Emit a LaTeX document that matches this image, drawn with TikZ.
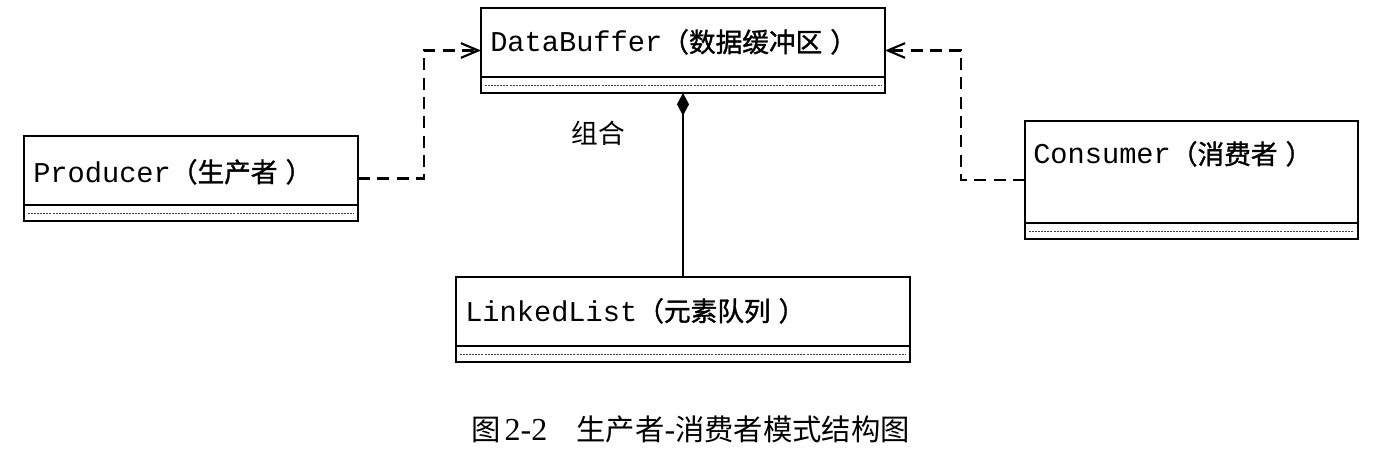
\documentclass[tikz,border=0pt]{standalone}
\usepackage{fontspec}
\setmainfont{Liberation Serif}
\setmonofont{Liberation Mono}
\newfontfamily\cjk{Noto Sans CJK SC}
\newfontfamily\cjkb[FakeBold=1.3]{Noto Sans CJK SC}
\usetikzlibrary{arrows.meta,calc}
\newlength\pxu \setlength\pxu{0.75pt}
\newcommand\zh[1]{{\cjkb\fontsize{20pt}{22pt}\selectfont #1}}
\newcommand\classbox[5]{%
  \node[umlbox, minimum width=#4\pxu, minimum height=#5\pxu] (#1) at (#2,#3) {};
  \draw[sepline] ($(#1.south west)+(0,-16)$) -- ($(#1.south east)+(0,-16)$);
  \draw[dotline] ($(#1.south west)+(4,-8)$) -- ($(#1.south east)+(-4,-8)$);
}
\tikzset{
  umlbox/.style={draw, rectangle, line width=2pt, inner sep=0pt, outer sep=0pt},
  sepline/.style={line width=2pt},
  dotline/.style={line width=0.5pt, dash pattern=on 1.5pt off 0.8pt, black!75},
  cname/.style={anchor=base west, inner sep=0pt, font=\fontsize{21.5pt}{24pt}\ttfamily},
  dep/.style={line width=1.6pt, dash pattern=on 9pt off 5.5pt,
    -{Straight Barb[length=13pt,width=11pt]}},
  comp/.style={line width=1.5pt, -{Diamond[length=17pt,width=9pt]}},
  lbl/.style={inner sep=0pt},
}
\begin{document}
\begin{tikzpicture}[x=0.75pt,y=-0.75pt]
\useasboundingbox (0,0) rectangle (1384,449);
% class boxes
\classbox{db}{683}{50.5}{404}{85}
\classbox{prod}{191}{178.5}{334}{85}
\classbox{cons}{1191.5}{180}{333}{118}
\classbox{ll}{683}{319.5}{454}{85}
% class names
\node[cname] (dbt) at (490,52) {DataBuffer\zh{（数据缓冲区\hspace{6pt}）}};
\node[cname] (prodt) at (33,182) {Producer\zh{（生产者\hspace{6pt}）}};
\node[cname] (const) at (1033,164) {Consumer\zh{（消费者\hspace{6pt}）}};
\node[cname] (llt) at (465,321) {LinkedList\zh{（元素队列\hspace{6pt}）}};
% connectors
\coordinate (pl) at (424,0);
\coordinate (pr) at (961,0);
\draw[dep] (prod.east) -| (pl |- db.west) -- (db.west);
\draw[dep] (cons.west) -| (pr |- db.east) -- (db.east);
\draw[comp] (ll.north) -- (db.south);
\node[lbl] (comb) at (598,133) {{\cjk\fontsize{20pt}{22pt}\selectfont 组合}};
% caption
\node[anchor=base west, inner sep=0pt, font=\fontsize{24pt}{26pt}\selectfont] (cap) at (471,440)
  {{\cjk\fontsize{22pt}{24pt}\selectfont 图}\hspace{3pt}2-2\hspace{22pt}{\cjk\fontsize{22pt}{24pt}\selectfont 生产者}-{\cjk\fontsize{22pt}{24pt}\selectfont 消费者模式结构图}};
\end{tikzpicture}
\end{document}
